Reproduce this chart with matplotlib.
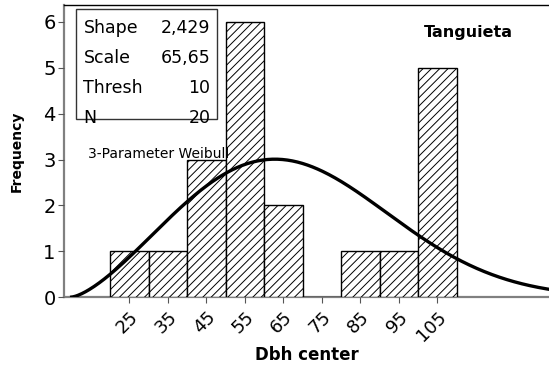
import numpy as np
import matplotlib
matplotlib.use("Agg")
import matplotlib.pyplot as plt

# Diameter classes (cm) and tree counts
dbh_centers = [25, 35, 45, 55, 65, 75, 85, 95, 105]
frequency = [1, 1, 3, 6, 2, 0, 1, 1, 5]

# Fitted 3-parameter Weibull
shape = 2.429
scale = 65.65
thresh = 10
n_trees = 20
bin_width = 10

plt.rcParams['hatch.linewidth'] = 0.7
plt.rcParams['hatch.color'] = '#444444'

fig = plt.figure(figsize=(5.49, 3.69), dpi=100)
ax = fig.add_axes([0.1166, 0.195, 0.8834, 0.7914])

ax.bar(dbh_centers, frequency, width=bin_width, color='white',
       edgecolor='black', linewidth=1.0, hatch='////', zorder=2)

x = np.linspace(thresh, 140, 400)
z = (x - thresh) / scale
pdf = (shape / scale) * z ** (shape - 1) * np.exp(-z ** shape)
ax.plot(x, pdf * n_trees * bin_width, color='black', lw=2.4, zorder=3)

ax.set_xlim(8.0, 134.0)
ax.set_ylim(0, 6.37)
ax.set_xticks(dbh_centers)
ax.set_xticklabels([str(c) for c in dbh_centers], rotation=45,
                   ha='right', va='top', rotation_mode='anchor', fontsize=13)
ax.set_yticks(range(7))
ax.tick_params(axis='y', labelsize=14, length=4, color='#555555', pad=2)
ax.tick_params(axis='x', length=4, color='#555555', pad=4)

for side in ['left', 'bottom']:
    ax.spines[side].set_color('#808080')
    ax.spines[side].set_linewidth(1.6)
    ax.spines[side].set_zorder(1)
ax.spines['top'].set_color('black')
ax.spines['top'].set_linewidth(1.0)
ax.spines['right'].set_visible(False)

ax.set_xlabel('Dbh center', fontsize=12, fontweight='bold', labelpad=1)
ax.set_ylabel('Frequency', fontsize=10, fontweight='bold', labelpad=14)

# parameter box
box = plt.Rectangle((0.025, 0.61), 0.29, 0.375, transform=ax.transAxes,
                    facecolor='white', edgecolor='#333333', lw=1.0, zorder=4)
ax.add_patch(box)
rows = [('Shape', '2,429'), ('Scale', '65,65'), ('Thresh', str(thresh)),
        ('N', str(n_trees))]
for i, (name, val) in enumerate(rows):
    yy = 0.922 - i * 0.1025
    ax.text(0.04, yy, name, transform=ax.transAxes, fontsize=12.5,
            va='center', ha='left', zorder=5)
    ax.text(0.302, yy, val, transform=ax.transAxes, fontsize=12.5,
            va='center', ha='right', zorder=5)

ax.text(0.049, 0.49, '3-Parameter Weibull', transform=ax.transAxes,
        fontsize=10, va='center', ha='left', zorder=5)
ax.text(0.833, 0.907, 'Tanguieta', transform=ax.transAxes, fontsize=11.5,
        fontweight='bold', va='center', ha='center', zorder=5)

fig.savefig('out.png', dpi=100)
